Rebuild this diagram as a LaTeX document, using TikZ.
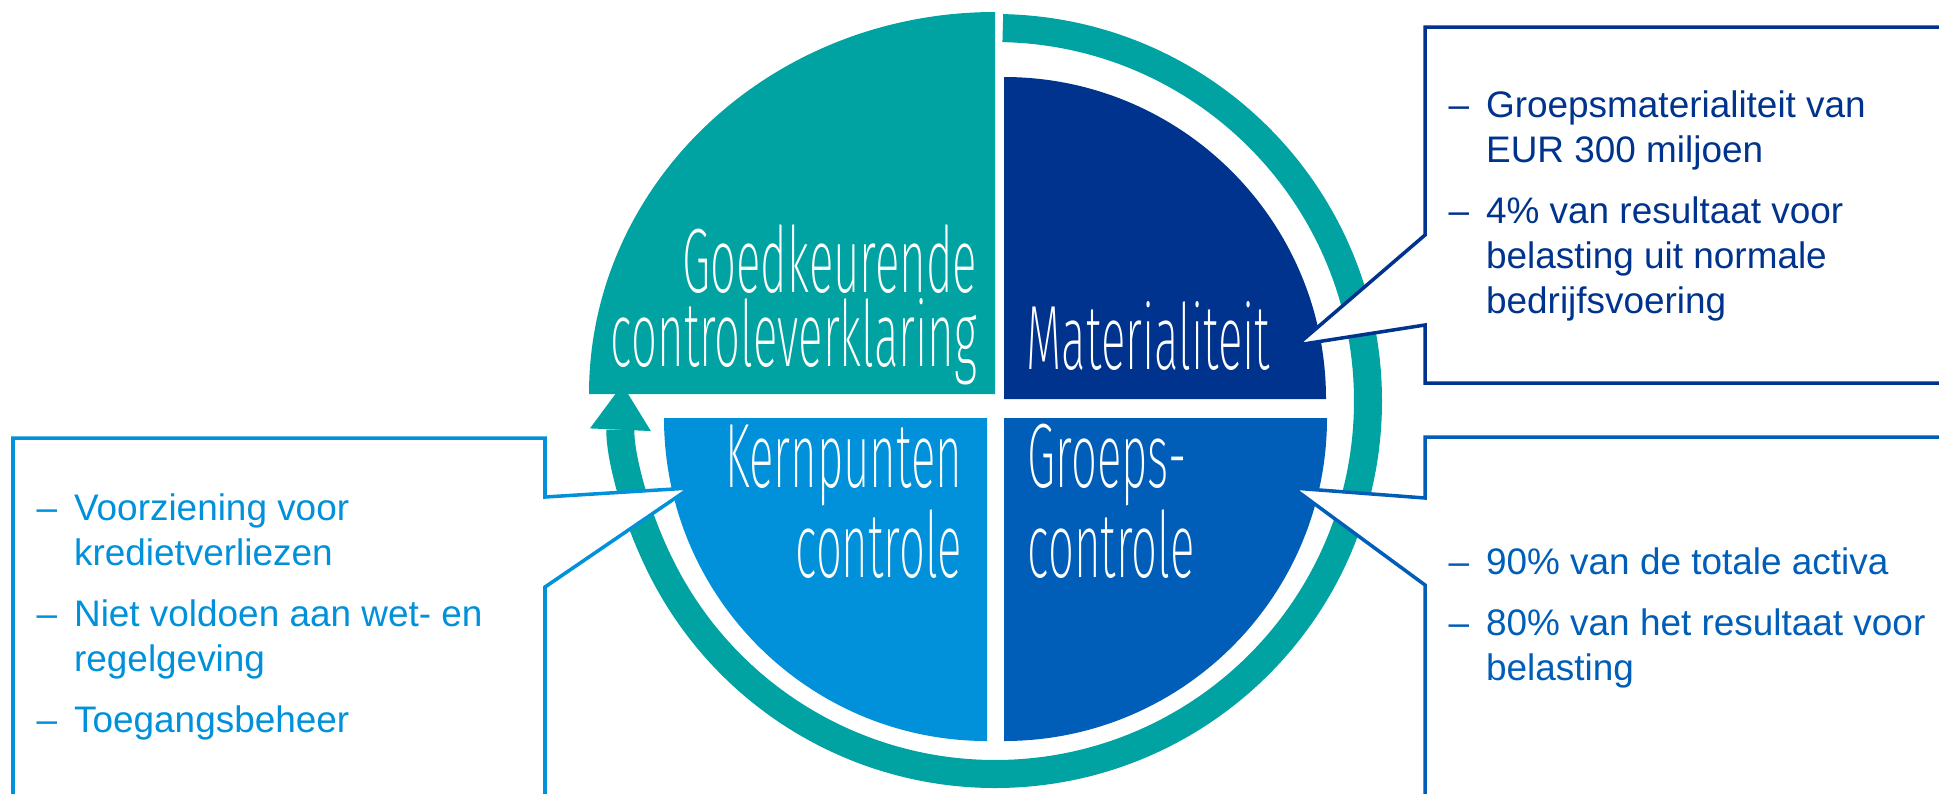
\documentclass[tikz,border=0pt]{standalone}
\usepackage{fontspec}
\setmainfont{Liberation Sans}
\IfFontExistsTF{Fira Sans ExtraLight}
    {\newfontfamily\labelfont{Fira Sans ExtraLight}[FakeStretch=0.5]}
    {\IfFontExistsTF{Fira Sans Light}
        {\newfontfamily\labelfont{Fira Sans Light}[FakeStretch=0.5]}
        {\newfontfamily\labelfont{Fira Sans}[FakeStretch=0.5]}}
\usetikzlibrary{arrows.meta}

\definecolor{kpmgteal}{HTML}{00A3A1}
\definecolor{kpmgnavy}{HTML}{00338D}
\definecolor{kpmgmid}{HTML}{005EB8}
\definecolor{kpmglight}{HTML}{0091DA}

\tikzset{
    quartertext/.style={text=white, inner sep=0pt, font=\labelfont\fontsize{26}{20.8}\selectfont},
    callout/.style={fill=white, line width=1pt, line join=miter},
    bullets/.style={inner sep=0pt, anchor=base west, font=\fontsize{10.5}{12.8}\selectfont},
}

\begin{document}
\begin{tikzpicture}[x=0.01cm, y=-0.01cm]
    \clip (0,0) rectangle (1939,793);
    \coordinate (O) at (995,401);

    % the four quarters
    \fill[kpmgteal] (995,394) -- ++(-406,0) arc[start angle=180, end angle=270, x radius=406, y radius=382] -- cycle;
    \fill[kpmgnavy] (1004,399) -- ++(0,-322) arc[start angle=270, end angle=360, radius=322] -- cycle;
    \fill[kpmgmid] (1004,418) -- ++(323,0) arc[start angle=0, end angle=90, radius=323] -- cycle;
    \fill[kpmglight] (987,418) -- ++(0,323) arc[start angle=90, end angle=180, radius=323] -- cycle;

    % ring round the circle
    \draw[kpmgteal, line width=0.28cm, -{Triangle[width=0.61cm, length=0.45cm, line width=0pt]}]
        ([shift={(-88.8:373)}]O) arc[start angle=-88.8, end angle=182.5, radius=373];

    % base of a two line node is its last line
    \node[quartertext, anchor=base east, align=right] (goed) at (978,366) {Goedkeurende\\controleverklaring};
    \node[quartertext, anchor=base west] (mat) at (1026,369) {Materialiteit};
    \node[quartertext, anchor=base east, align=right] (kern) at (963,577) {Kernpunten\\controle};
    \node[quartertext, anchor=base west, align=left] (groeps) at (1027,577) {Groeps-\\controle};

    % callouts
    \draw[callout, draw=kpmgnavy] (1960,27) -- (1425,27) -- (1425,235) -- (1297,345) -- (1425,325) -- (1425,383) -- (1960,383);
    \draw[callout, draw=kpmgmid] (1960,437) -- (1425,437) -- (1425,498) -- (1293,488) -- (1425,585) -- (1425,830);
    \draw[callout, draw=kpmglight] (13,830) -- (13,438) -- (545,438) -- (545,497) -- (690,488) -- (545,587) -- (545,830);

    \node[bullets, text=kpmgnavy] (matlist) at (1448,117) {%
        \begin{tabular}[t]{@{}l@{\hspace{4.8pt}}l@{}}
            -- & Groepsmaterialiteit van\\
               & EUR 300 miljoen\\[4.56pt]
            -- & 4\% van resultaat voor\\
               & belasting uit normale\\
               & bedrijfsvoering
        \end{tabular}};
    \node[bullets, text=kpmgmid] (groepslist) at (1448,574) {%
        \begin{tabular}[t]{@{}l@{\hspace{4.8pt}}l@{}}
            -- & 90\% van de totale activa\\[4.56pt]
            -- & 80\% van het resultaat voor\\
               & belasting
        \end{tabular}};
    \node[bullets, text=kpmglight] (kernlist) at (36,520) {%
        \begin{tabular}[t]{@{}l@{\hspace{4.8pt}}l@{}}
            -- & Voorziening voor\\
               & kredietverliezen\\[4.56pt]
            -- & Niet voldoen aan wet- en\\
               & regelgeving\\[4.56pt]
            -- & Toegangsbeheer
        \end{tabular}};
\end{tikzpicture}
\end{document}
